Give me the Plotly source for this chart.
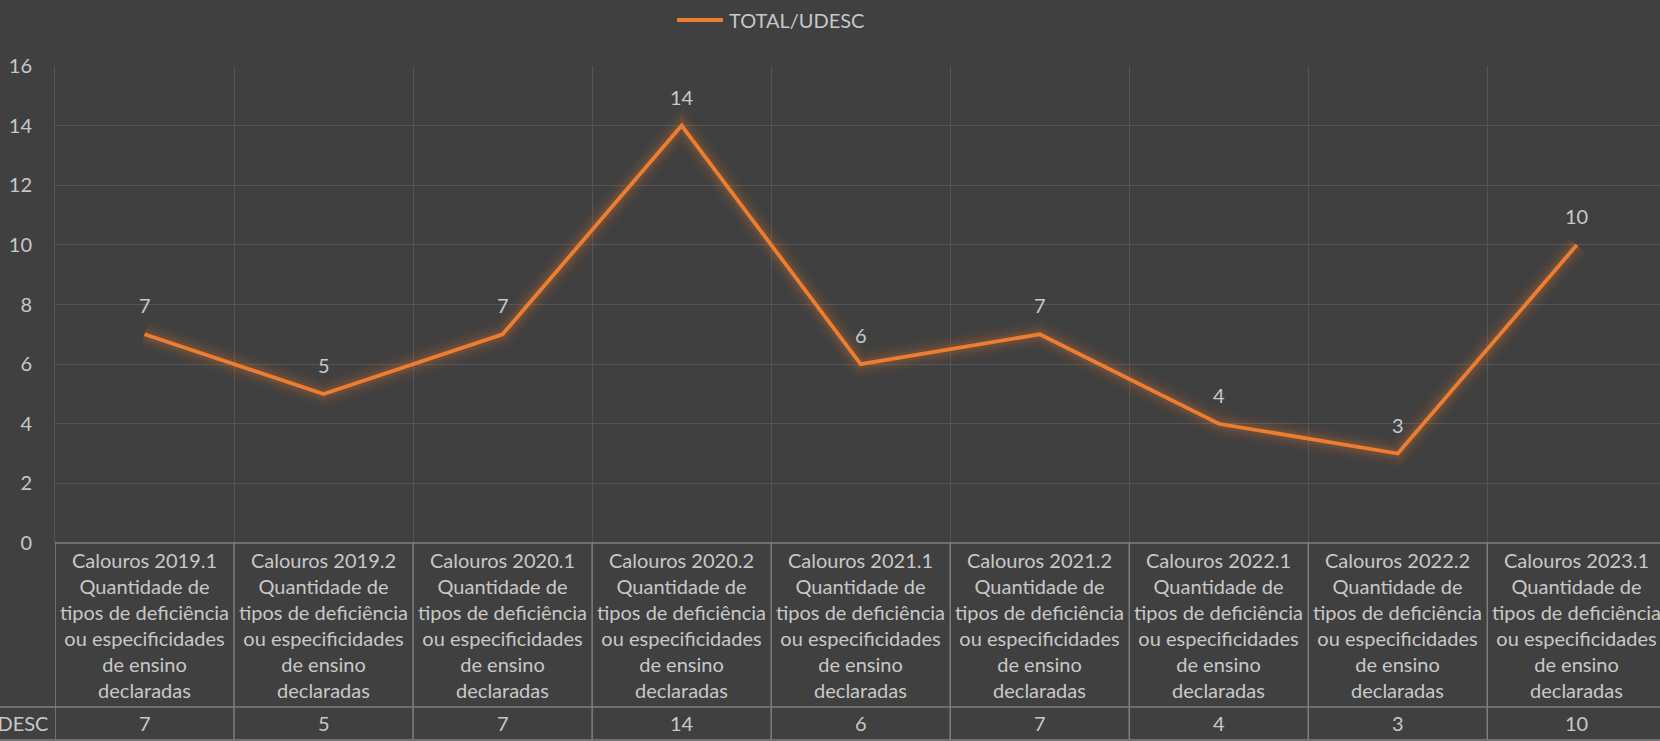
import plotly.graph_objects as go

# ---- data ----
categories = ["Calouros 2019.1", "Calouros 2019.2", "Calouros 2020.1", "Calouros 2020.2",
              "Calouros 2021.1", "Calouros 2021.2", "Calouros 2022.1", "Calouros 2022.2",
              "Calouros 2023.1"]
category_suffix = ["Quantidade de", "tipos de deficiência", "ou especificidades",
                   "de ensino", "declaradas"]
values = [7, 5, 7, 14, 6, 7, 4, 3, 10]
series_name = "TOTAL/UDESC"
y_ticks = [0, 2, 4, 6, 8, 10, 12, 14, 16]

# ---- style ----
W, H = 1660, 741
ML, MR, MT, MB = 55, 0, 66, 198
BG = "#404040"
GRID = "#555555"
BORDER = "#7f7f7f"
TXT = "#c8c8c8"
ORANGE = "#ED7D31"
FONT = "Lato, 'Open Sans', sans-serif"
FS = 20

plot_w = W - ML - MR
plot_h = H - MT - MB
col_px = 179.04
x_max = -0.5 + plot_w / col_px


def py2paper(py):
    return (H - MB - py) / plot_h


def px2paper(px):
    return (px - ML) / plot_w


fig = go.Figure()

# soft glow layers
for w, a in [(26, 0.04), (20, 0.05), (14, 0.07), (9, 0.1)]:
    fig.add_trace(go.Scatter(x=categories, y=values, mode="lines",
                             line=dict(color=f"rgba(237,125,49,{a})", width=w),
                             hoverinfo="skip", showlegend=False))
fig.add_trace(go.Scatter(x=categories, y=values, mode="lines", name=series_name,
                         line=dict(color=ORANGE, width=3.8), showlegend=False))

annotations = []
# data labels
for c, v in zip(categories, values):
    annotations.append(dict(x=c, y=v, xref="x", yref="y", text=str(v), showarrow=False,
                            yshift=29, font=dict(family=FONT, size=FS, color=TXT)))

# table
y_top = 0
y_mid = py2paper(707)
y_bot = py2paper(740)
shapes = []
shapes.append(dict(type="line", xref="paper", yref="paper", x0=0, x1=1.01, y0=y_top, y1=y_top,
                   line=dict(color=BORDER, width=1.5)))
for yy in (y_mid, y_bot):
    shapes.append(dict(type="line", xref="paper", yref="paper", x0=-0.05, x1=1.01, y0=yy, y1=yy,
                       line=dict(color=BORDER, width=1.5)))
for k in range(len(categories) + 1):
    xb = k - 0.5
    shapes.append(dict(type="line", xref="x", yref="paper", x0=xb, x1=xb, y0=y_top, y1=y_bot,
                       line=dict(color=BORDER, width=1.5)))

head_y = (py2paper(543) + py2paper(707)) / 2
val_y = (py2paper(707) + py2paper(740)) / 2
for c, v in zip(categories, values):
    annotations.append(dict(x=c, y=head_y, xref="x", yref="paper",
                            text="<br>".join([c] + category_suffix), showarrow=False,
                            yanchor="middle", align="center",
                            font=dict(family=FONT, size=FS, color=TXT)))
    annotations.append(dict(x=c, y=val_y, xref="x", yref="paper", text=str(v), showarrow=False,
                            yanchor="middle", font=dict(family=FONT, size=FS, color=TXT)))
annotations.append(dict(x=px2paper(50), y=val_y, xref="paper", yref="paper", text=series_name,
                        showarrow=False, xanchor="right", yanchor="middle",
                        font=dict(family=FONT, size=FS, color=TXT)))

# legend (manual)
leg_y = py2paper(20)
shapes.append(dict(type="line", xref="paper", yref="paper", x0=px2paper(677), x1=px2paper(723),
                   y0=leg_y, y1=leg_y, line=dict(color=ORANGE, width=4)))
annotations.append(dict(x=px2paper(727), y=leg_y, xref="paper", yref="paper", text=series_name,
                        showarrow=False, xanchor="left", yanchor="middle",
                        font=dict(family=FONT, size=FS, color=TXT)))

fig.update_layout(
    width=W, height=H,
    margin=dict(l=ML, r=MR, t=MT, b=MB, pad=0),
    paper_bgcolor=BG, plot_bgcolor=BG,
    showlegend=False,
    shapes=shapes,
    annotations=annotations,
    xaxis=dict(type="category", categoryorder="array", categoryarray=categories,
               range=[-0.5, x_max], tickson="boundaries", showticklabels=False,
               ticks="", showgrid=True, gridcolor=GRID, gridwidth=1, zeroline=False,
               showline=False, fixedrange=True),
    yaxis=dict(range=[0, 16], tickvals=y_ticks, ticktext=[str(t) for t in y_ticks],
               ticks="", showgrid=True, gridcolor=GRID, gridwidth=1, zeroline=False,
               showline=True, linecolor=GRID, linewidth=1, ticklabelstandoff=18,
               tickfont=dict(family=FONT, size=FS, color=TXT), fixedrange=True),
)

fig.write_html("out.html", config={"displayModeBar": False},
               post_script="document.body.style.margin='0';document.body.style.overflow='hidden';"
                           "document.body.style.background='" + BG + "';")
